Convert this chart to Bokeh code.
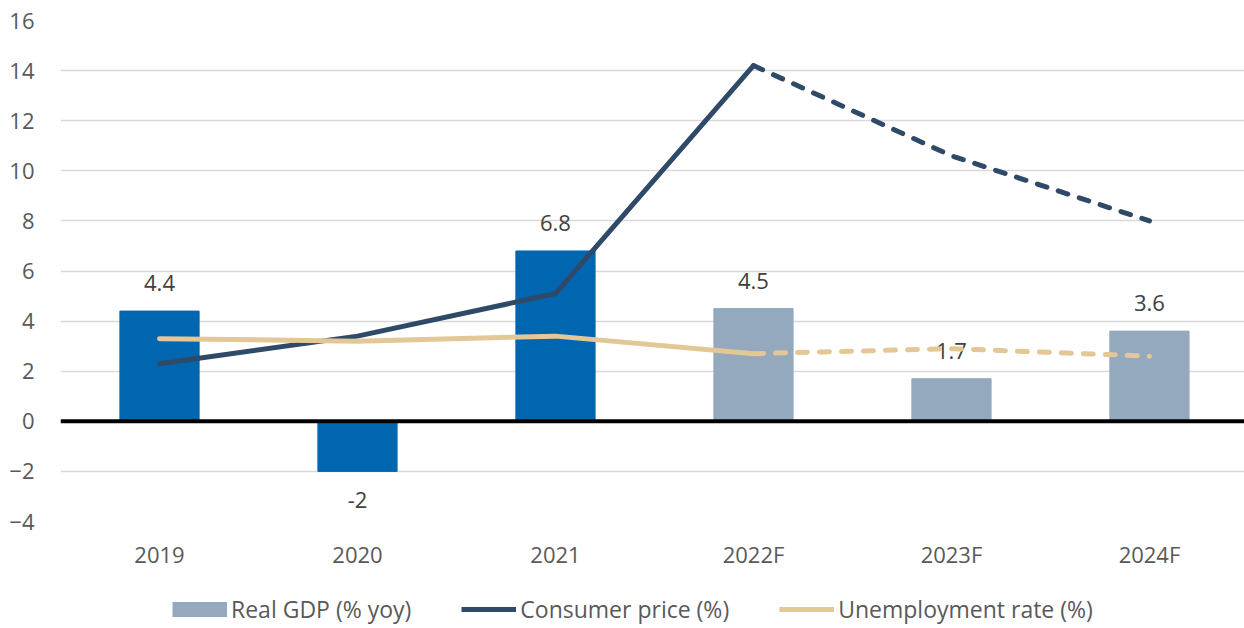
from bokeh.plotting import figure
from bokeh.layouts import column
from bokeh.models import (ColumnDataSource, FixedTicker, Span, Legend, LegendItem, Range1d)
from bokeh.core.properties import value
from bokeh.embed import file_html
from bokeh.resources import INLINE

# ---- data ----
years = ["2019", "2020", "2021", "2022F", "2023F", "2024F"]
real_gdp = [4.4, -2.0, 6.8, 4.5, 1.7, 3.6]
gdp_labels = ["4.4", "-2", "6.8", "4.5", "1.7", "3.6"]
consumer_price = [2.3, 3.4, 5.1, 14.2, 10.6, 8.0]
unemployment = [3.3, 3.2, 3.4, 2.7, 2.9, 2.6]
y_ticks = [-4, -2, 0, 2, 4, 6, 8, 10, 12, 14, 16]
legend_labels = ["Real GDP (% yoy)", "Consumer price (%)", "Unemployment rate (%)"]

# ---- styles ----
FONT = "Open Sans"
ACTUAL_COLOR = "#0066B0"
FORECAST_COLOR = "#94A9BE"
CPI_COLOR = "#2E4A68"
UNEMP_COLOR = "#E3C796"
TICK_COLOR = "#595959"
LABEL_COLOR = "#404040"
LW = 5

idx = list(range(len(years)))
is_forecast = [y.endswith("F") for y in years]
first_fc = is_forecast.index(True)
bar_colors = [FORECAST_COLOR if f else ACTUAL_COLOR for f in is_forecast]
label_offsets = [-28 if v >= 0 else 29 for v in real_gdp]

# ---------------- main chart ----------------
p = figure(width=1244, height=571, output_backend="svg", toolbar_location=None,
           x_range=Range1d(-0.5, 5.48), y_range=Range1d(-4, 16),
           min_border_left=60, min_border_right=0, min_border_top=20, min_border_bottom=50)
p.outline_line_color = None

bar_src = ColumnDataSource(dict(x=idx, top=real_gdp, color=bar_colors,
                                lab=gdp_labels, yoff=label_offsets))
p.vbar(x="x", top="top", width=0.4, color="color", source=bar_src)

p.text(x="x", y="top", text="lab", source=bar_src, y_offset="yoff",
       text_align="center", text_baseline="alphabetic",
       text_font=value(FONT), text_font_size="22px", text_color=LABEL_COLOR)

# solid for actual (through first forecast year), dashed for forecast
p.line(idx[:first_fc + 1], consumer_price[:first_fc + 1], line_color=CPI_COLOR,
       line_width=LW, line_join="round", line_cap="round")
p.line(idx[first_fc:], consumer_price[first_fc:], line_color=CPI_COLOR,
       line_width=LW, line_dash="10 12", line_cap="round", line_join="round")
p.line(idx[:first_fc + 1], unemployment[:first_fc + 1], line_color=UNEMP_COLOR,
       line_width=LW, line_join="round", line_cap="round")
p.line(idx[first_fc:], unemployment[first_fc:], line_color=UNEMP_COLOR,
       line_width=LW, line_dash="10 12", line_cap="round", line_join="round")

p.add_layout(Span(location=0, dimension="width", line_color="black", line_width=4))

p.xgrid.visible = False
p.ygrid.grid_line_color = "#D9D9D9"
p.ygrid.grid_line_width = 1.5
p.ygrid.ticker = FixedTicker(ticks=y_ticks)

p.yaxis.ticker = FixedTicker(ticks=y_ticks)
p.xaxis.ticker = FixedTicker(ticks=idx)
p.xaxis.major_label_overrides = {i: y for i, y in zip(idx, years)}
for ax in (p.xaxis[0], p.yaxis[0]):
    ax.axis_line_color = None
    ax.major_tick_line_color = None
    ax.minor_tick_line_color = None
    ax.major_tick_out = 0
    ax.major_tick_in = 0
    ax.minor_tick_out = 0
    ax.major_label_text_font = FONT
    ax.major_label_text_font_size = "22px"
    ax.major_label_text_color = TICK_COLOR
p.yaxis.major_label_standoff = 26
p.xaxis.major_label_standoff = 17

# ---------------- legend strip ----------------
# key renderers reuse the chart data but sit outside this strip's visible range
lg = figure(width=1244, height=57, output_backend="svg", toolbar_location=None,
            x_range=Range1d(100, 101), y_range=Range1d(100, 101),
            x_axis_location=None, y_axis_location=None,
            min_border_left=60, min_border_right=0, min_border_top=0, min_border_bottom=0)
lg.outline_line_color = None
lg.xgrid.visible = False
lg.ygrid.visible = False
key_bar = lg.line(idx, real_gdp, line_color=FORECAST_COLOR, line_width=15)
key_cpi = lg.line(idx, consumer_price, line_color=CPI_COLOR, line_width=LW)
key_un = lg.line(idx, unemployment, line_color=UNEMP_COLOR, line_width=LW)

legend = Legend(items=[
    LegendItem(label=legend_labels[0], renderers=[key_bar]),
    LegendItem(label=legend_labels[1], renderers=[key_cpi]),
    LegendItem(label=legend_labels[2], renderers=[key_un]),
], orientation="horizontal", location=(112, 3))
legend.glyph_width = 55
legend.glyph_height = 16
legend.label_standoff = 4
legend.spacing = 50
legend.padding = 0
legend.margin = 0
legend.border_line_color = None
legend.background_fill_alpha = 0
legend.label_text_font = FONT
legend.label_text_font_size = "23px"
legend.label_text_color = TICK_COLOR
lg.add_layout(legend)

layout = column(p, lg, spacing=0)
open("out.html", "w").write(file_html(layout, INLINE))
